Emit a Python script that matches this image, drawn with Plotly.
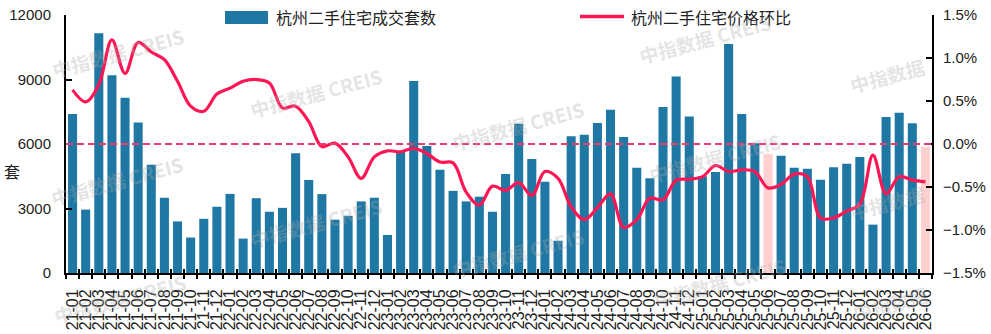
import plotly.graph_objects as go

months = ["21-01","21-02","21-03","21-04","21-05","21-06","21-07","21-08","21-09","21-10","21-11","21-12",
          "22-01","22-02","22-03","22-04","22-05","22-06","22-07","22-08","22-09","22-10","22-11","22-12",
          "23-01","23-02","23-03","23-04","23-05","23-06","23-07","23-08","23-09","23-10","23-11","23-12",
          "24-01","24-02","24-03","24-04","24-05","24-06","24-07","24-08","24-09","24-10","24-11","24-12",
          "25-01","25-02","25-03","25-04","25-05","25-06","25-07","25-08","25-09","25-10","25-11","25-12",
          "26-01","26-02","26-03","26-04","26-05","26-06"]

volumes = [7400, 2950, 11150, 9200, 8150, 7000, 5030, 3500, 2400, 1650, 2520, 3080,
           3680, 1600, 3480, 2850, 3030, 5570, 4330, 3670, 2480, 2660, 3330, 3500,
           1770, 5650, 8930, 5910, 4800, 3820, 3330, 3550, 2850, 4610, 6940, 5300,
           4240, 1500, 6360, 6430, 6980, 7590, 6330, 4890, 4410, 7720, 9140, 7280,
           4500, 4700, 10650, 7400, 6040, 5540, 5450, 4890, 4850, 4340, 4920, 5080,
           5400, 2250, 7260, 7450, 6970, 5870]

price_mom = [0.63, 0.49, 0.69, 1.21, 0.82, 1.18, 1.07, 0.98, 0.73, 0.44, 0.38, 0.58,
             0.65, 0.73, 0.75, 0.71, 0.42, 0.44, 0.26, -0.03, 0.01, -0.15, -0.40, -0.15,
             -0.08, -0.09, -0.05, -0.11, -0.21, -0.22, -0.56, -0.71, -0.49, -0.54, -0.45, -0.60,
             -0.32, -0.40, -0.73, -0.88, -0.74, -0.58, -0.97, -0.88, -0.63, -0.65, -0.42, -0.41,
             -0.38, -0.25, -0.32, -0.30, -0.32, -0.51, -0.47, -0.35, -0.38, -0.86, -0.86, -0.78,
             -0.70, -0.13, -0.58, -0.38, -0.42, -0.44]

highlight = ["25-06", "26-06"]

left_ticks = [0, 3000, 6000, 9000, 12000]
right_ticks = [-1.5, -1.0, -0.5, 0.0, 0.5, 1.0, 1.5]
right_labels = ["\u22121.5%", "\u22121.0%", "\u22120.5%", "0.0%", "0.5%", "1.0%", "1.5%"]

bar_name = "杭州二手住宅成交套数"
line_name = "杭州二手住宅价格环比"

BLUE = "#1F78A3"
PINK = "#FFD0D0"
RED = "#FF1654"

W, H = 991, 334
L, R, T, B = 66, 932, 15, 273

def px(x):
    return (x - L) / (R - L)

def py(y):
    return (B - y) / (B - T)

bar_colors = [PINK if m in highlight else BLUE for m in months]
n = len(months)
boundaries = [i - 0.5 for i in range(n + 1)]

fig = go.Figure()
fig.add_trace(go.Bar(x=months, y=volumes, marker=dict(color=bar_colors, line=dict(width=0)),
                     name=bar_name, yaxis="y", showlegend=False))
fig.add_trace(go.Scatter(x=months, y=price_mom, mode="lines", name=line_name, yaxis="y2",
                         line=dict(color=RED, width=3.2, shape="spline", smoothing=1.0),
                         showlegend=False))
# helper (invisible) trace so the lower tick-mark axis gets drawn
fig.add_trace(go.Scatter(x=[None], y=[None], xaxis="x2", yaxis="y", mode="markers",
                         showlegend=False, hoverinfo="skip"))

tickfont = dict(family="Liberation Sans, Arial, sans-serif", size=15, color="#222")

annotations = []
shapes = []

# zero reference line on right axis
shapes.append(dict(type="line", xref="paper", yref="y2", x0=0, x1=1, y0=0, y1=0,
                   line=dict(color="#F03A6C", width=2, dash="7px,4px"), layer="above"))

# legend (manual)
shapes.append(dict(type="rect", xref="paper", yref="paper", x0=px(225), x1=px(268),
                   y0=py(24), y1=py(11), fillcolor=BLUE, line=dict(width=0)))
shapes.append(dict(type="line", xref="paper", yref="paper", x0=px(580), x1=px(624),
                   y0=py(16.5), y1=py(16.5), line=dict(color=RED, width=3.5)))
legfont = dict(family="Noto Sans CJK SC, sans-serif", size=16, color="#222")
annotations.append(dict(x=px(274), y=py(17), xref="paper", yref="paper", text=bar_name,
                        showarrow=False, xanchor="left", yanchor="middle", font=legfont))
annotations.append(dict(x=px(629), y=py(17), xref="paper", yref="paper", text=line_name,
                        showarrow=False, xanchor="left", yanchor="middle", font=legfont))

# y-axis title
annotations.append(dict(x=px(12), y=py(171), xref="paper", yref="paper", text="套",
                        showarrow=False, xanchor="center", yanchor="middle",
                        font=dict(family="Noto Sans CJK SC, sans-serif", size=16, color="#222")))

# watermarks
wm_full = "中指数据 CREIS"
wm_short = "中指数据"
watermarks = [(118, 52, wm_full), (117, 180, wm_full), (120, 298, wm_full),
              (316, 92, wm_full), (316, 222, wm_full),
              (518, 125, wm_full), (518, 252, wm_full),
              (705, 38, wm_full), (715, 157, wm_full), (720, 282, wm_full),
              (887, 75, wm_short), (887, 202, wm_short), (890, 303, wm_short)]
for (wx, wy, wt) in watermarks:
    annotations.append(dict(x=px(wx), y=py(wy), xref="paper", yref="paper", text=wt,
                            showarrow=False, textangle=-15, xanchor="center", yanchor="middle",
                            font=dict(family="Noto Sans CJK SC, sans-serif", size=19,
                                      color="rgba(170,170,170,0.32)", weight="bold")))

fig.update_layout(
    width=W, height=H,
    margin=dict(l=L, r=W - R, t=T, b=H - B, pad=0, autoexpand=False),
    paper_bgcolor="white", plot_bgcolor="white",
    bargap=0.31,
    showlegend=False,
    xaxis=dict(type="category", range=[-0.5, n - 0.5], tickangle=-90, automargin=False,
               tickmode="array", tickvals=months, ticktext=months,
               tickson="boundaries", ticks="inside", ticklen=4, tickwidth=2, tickcolor="black",
               showline=True, linecolor="black", linewidth=2, showgrid=False,
               tickfont=dict(family="Liberation Sans, Arial, sans-serif", size=16, color="#222"),
               ticklabelstandoff=8, zeroline=False),
    xaxis2=dict(type="linear", range=[-0.5, n - 0.5], overlaying="x", anchor="y", side="bottom",
                automargin=False,
                tickmode="array", tickvals=boundaries, ticks="outside", ticklen=5, tickwidth=2,
                tickcolor="black", showticklabels=False, showline=False, showgrid=False,
                zeroline=False),
    yaxis=dict(range=[0, 12000], tickvals=left_ticks, ticktext=[str(v) for v in left_ticks],
               ticks="inside", ticklen=6, tickwidth=2, tickcolor="black", automargin=False,
               showline=True, linecolor="black", linewidth=2, showgrid=False, zeroline=False,
               tickfont=tickfont, ticklabelstandoff=10),
    yaxis2=dict(range=[-1.5, 1.5], overlaying="y", side="right", tickvals=right_ticks,
                ticktext=right_labels, ticks="inside", ticklen=6, tickwidth=2, tickcolor="black",
                automargin=False,
                showline=True, linecolor="black", linewidth=2, showgrid=False, zeroline=False,
                tickfont=tickfont, ticklabelstandoff=6),
    shapes=shapes,
    annotations=annotations,
)

fig.write_html("out.html")
